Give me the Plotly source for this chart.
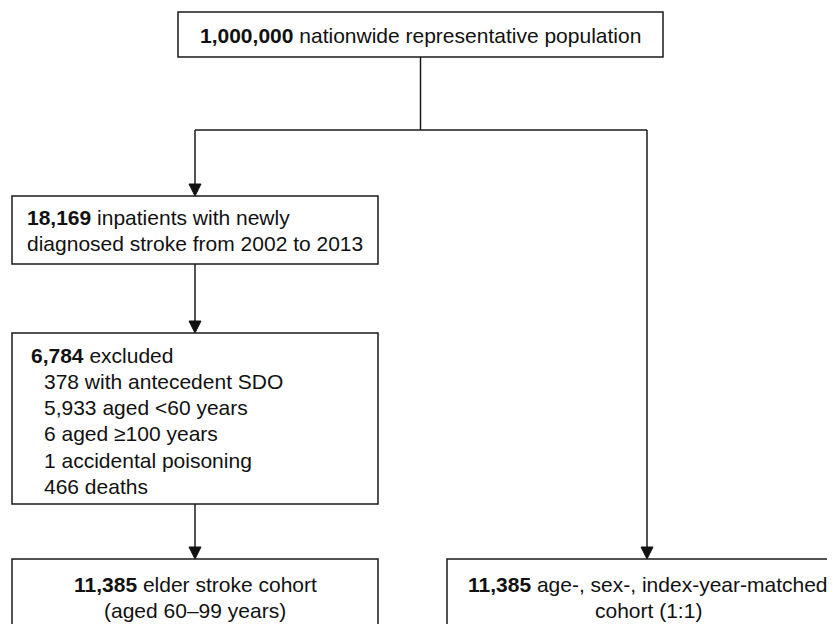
import plotly.graph_objects as go

# ---- text content (data) ----
top_text = ["<b>1,000,000</b> nationwide representative population"]
stroke_text = ["<b>18,169</b> inpatients with newly",
               "diagnosed stroke from 2002 to 2013"]
excluded_header = ["<b>6,784</b> excluded"]
excluded_items = ["378 with antecedent SDO",
                  "5,933 aged &lt;60 years",
                  "6 aged ≥100 years",
                  "1 accidental poisoning",
                  "466 deaths"]
cohort_text = ["<b>11,385</b> elder stroke cohort", "(aged 60–99 years)"]
matched_text = ["<b>11,385</b> age-, sex-, index-year-matched", "cohort (1:1)"]

# ---- layout (positions / styles) ----
W, H = 835, 624
PAGE_MARGIN = 8  # default body margin of the page
FONT = dict(family="Liberation Sans, Arial, sans-serif", size=21, color="#111111")
LINE = dict(color="#1a1a1a", width=1.5)
LH = 26.2

boxes = {
    "top": (178, 663, 12, 57),
    "stroke": (12, 378, 196, 264),
    "excl": (12, 378, 333, 504),
    "cohort": (12, 378, 559, 640),
    "matched": (447, 849, 559, 640),
}

shapes = []
annotations = []

for (x0, x1, y0, y1) in boxes.values():
    shapes.append(dict(type="rect", xref="x", yref="y", x0=x0, x1=x1, y0=y0, y1=y1,
                       line=LINE, fillcolor="white", layer="above"))


def add_lines(lines, x, y_first, anchor):
    for i, t in enumerate(lines):
        annotations.append(dict(x=x, y=y_first + i * LH, xref="x", yref="y", text=t,
                                showarrow=False, xanchor=anchor, yanchor="middle",
                                font=FONT))


add_lines(top_text, 420.5, 35, "center")
add_lines(stroke_text, 25, 217, "left")
add_lines(excluded_header, 29, 355, "left")
add_lines(excluded_items, 42, 381.5, "left")
add_lines(cohort_text, 195, 584, "center")
add_lines(matched_text, 648, 584, "center")


def seg(x0, y0, x1, y1):
    shapes.append(dict(type="line", xref="x", yref="y", x0=x0, y0=y0, x1=x1, y1=y1,
                       line=LINE))


def arrow_down(x, y_from, y_to):
    seg(x, y_from, x, y_to - 10)
    shapes.append(dict(type="path", xref="x", yref="y",
                       path=f"M {x-6},{y_to-12} L {x+6},{y_to-12} L {x},{y_to} Z",
                       fillcolor="#111111", line=dict(color="#111111", width=1)))


split_y = 130
left_x, right_x, mid_x = 195, 647, 420.5
seg(mid_x, 57, mid_x, split_y)
seg(left_x, split_y, right_x, split_y)
arrow_down(left_x, split_y, 196)
arrow_down(right_x, split_y, 559)
arrow_down(left_x, 264, 333)
arrow_down(left_x, 504, 559)

fig = go.Figure()
fig.update_layout(
    width=W - PAGE_MARGIN, height=H - PAGE_MARGIN,
    margin=dict(l=0, r=0, t=0, b=0),
    paper_bgcolor="white", plot_bgcolor="white",
    xaxis=dict(range=[PAGE_MARGIN, W], visible=False, fixedrange=True),
    yaxis=dict(range=[H, PAGE_MARGIN], visible=False, fixedrange=True),
    shapes=shapes, annotations=annotations, showlegend=False,
)
fig.write_html("out.html")
